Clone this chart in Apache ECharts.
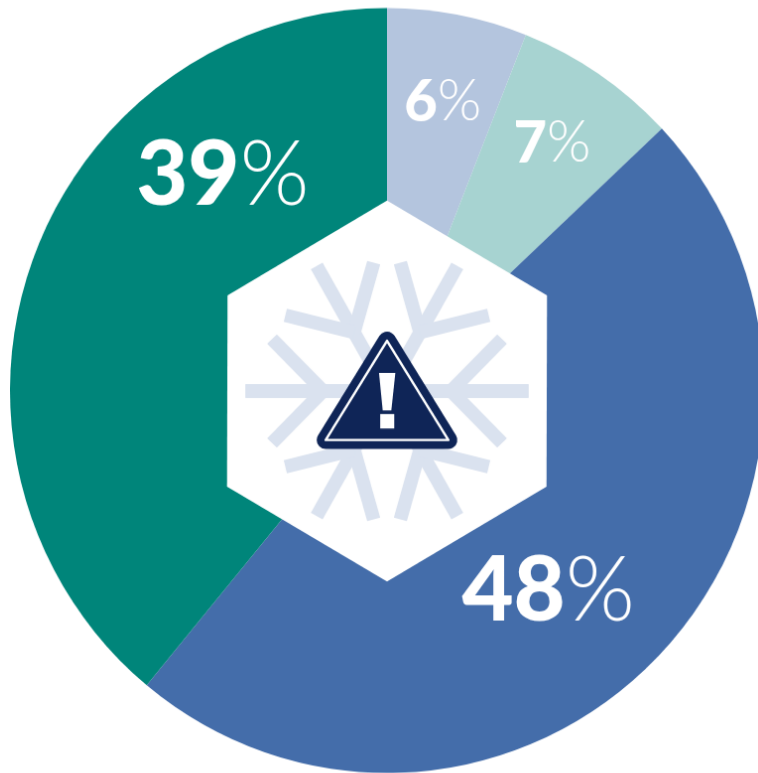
<!DOCTYPE html>
<html>
<head>
<meta charset="utf-8">
<style>
html,body{margin:0;padding:0;background:#fff;overflow:hidden}
/* The pie is very slightly taller than wide, so the canvas is stretched about its centre */
#chart{position:absolute;left:0;top:0;width:800px;height:800px;transform-origin:387px 390.5px;transform:scale(0.9921,1.00658)}
</style>
<script src="https://cdn.jsdelivr.net/npm/echarts@6/dist/echarts.min.js"></script>
</head>
<body>
<div id="chart"></div>
<script>
// Share of each category, clockwise from twelve o'clock
const categories = ['A', 'B', 'C', 'D'];
const shares = [6, 7, 48, 39];
const sliceColors = ['#b4c5de', '#a7d3d1', '#446daa', '#00857a'];
const digitSizes = [58, 58, 90, 90];
const percentSizes = [57, 57, 90, 90];
const labelShifts = [[20, -97], [58, -86], [22, 67], [16, -148]];

const CX = 387, CY = 390.5;
const FLAKE = '#dae2ef', NAVY = '#0f2557';

// One arm of the snowflake (upper-left), mirrored into the other three quadrants
const armSegments = [
  [[0, 0], [-70.3, -125]],
  [[-33, -58.7], [-13.3, -128.3]],
  [[-33, -58.7], [-101.7, -75.7]],
  [[-64, 0], [-115, -52]],
  [[0, 0], [-141.5, 0]]
];
const flakeLines = [];
[[1, 1], [-1, 1], [1, -1], [-1, -1]].forEach(([sx, sy]) => {
  armSegments.forEach(([a, b]) => {
    flakeLines.push({
      type: 'line',
      z: 110,
      shape: { x1: a[0] * sx, y1: a[1] * sy, x2: b[0] * sx, y2: b[1] * sy },
      style: { stroke: FLAKE, lineWidth: 13.5, lineCap: 'butt' }
    });
  });
});

const warningTriangle = [[0, -50.3], [61.3, 49], [-61.3, 49]];

const chart = echarts.init(document.getElementById('chart'), null, { renderer: 'canvas' });
chart.setOption({
  animation: false,
  backgroundColor: '#ffffff',
  series: [{
    type: 'pie',
    center: [CX, CY],
    radius: [0, 380],
    startAngle: 90,
    clockwise: true,
    silent: true,
    labelLine: { show: false },
    label: {
      show: true,
      position: 'inside',
      formatter: (p) => `{n${p.dataIndex}|${p.value}}{p${p.dataIndex}|%}`,
      rich: Object.assign({}, ...digitSizes.map((s, i) => ({
        ['n' + i]: { fontFamily: 'Lato', fontWeight: 900, fontSize: s, color: '#fff' },
        ['p' + i]: { fontFamily: 'Lato', fontWeight: 300, fontSize: percentSizes[i], color: '#fff' }
      })))
    },
    labelLayout: (p) => ({ dx: labelShifts[p.dataIndex][0], dy: labelShifts[p.dataIndex][1] }),
    data: categories.map((c, i) => ({ name: c, value: shares[i], itemStyle: { color: sliceColors[i] } }))
  }],
  // Hexagonal badge with the snowflake and warning sign, centred on the pie
  graphic: [{
    type: 'group',
    x: CX,
    y: 391,
    scaleX: 1.008,
    scaleY: 0.9935,
    silent: true,
    children: [
      { type: 'polygon', z: 100, shape: { points: [[0, -190.5], [160, -95.5], [159.5, 95.5], [0, 190.5], [-160, 95.5], [-159.5, -95.5]] }, style: { fill: '#fff' } },
      ...flakeLines,
      { type: 'polygon', z: 120, shape: { points: warningTriangle }, style: { fill: NAVY, stroke: NAVY, lineWidth: 18, lineJoin: 'round' } },
      { type: 'polygon', z: 121, shape: { points: warningTriangle }, style: { fill: NAVY, stroke: '#fff', lineWidth: 2.4, lineJoin: 'round' } },
      { type: 'polygon', z: 122, shape: { points: [[-8, -18], [8.3, -18], [4.3, 19.5], [-4.3, 19.5]] }, style: { fill: '#fff' } },
      { type: 'rect', z: 122, shape: { x: -6.8, y: 23, width: 14, height: 14.5 }, style: { fill: '#fff' } }
    ]
  }]
});
</script>
</body>
</html>
